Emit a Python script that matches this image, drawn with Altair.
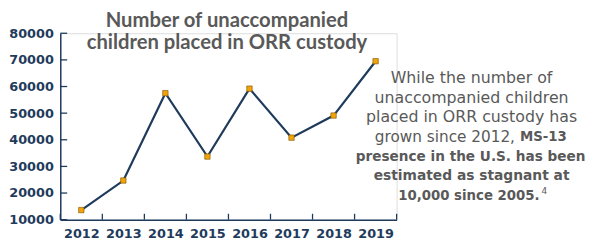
import altair as alt
import pandas as pd

years = ["2012", "2013", "2014", "2015", "2016", "2017", "2018", "2019"]
counts = [13600, 24700, 57500, 33700, 59200, 40800, 49100, 69500]
y_ticks = [10000, 20000, 30000, 40000, 50000, 60000, 70000, 80000]

title_lines = ["Number of unaccompanied", "children placed in ORR custody"]
note_normal = ["While the number of", "unaccompanied children", "placed in ORR custody has"]
note_mixed_a = "grown since 2012,"
note_mixed_b = "MS-13"
note_bold = ["presence in the U.S. has been", "estimated as stagnant at"]
note_last = "10,000 since 2005."
note_sup = "4"

NAVY = "#1f3b5c"
GRAY = "#595959"
ORANGE = "#f0a30a"

W, H = 341, 189

df = pd.DataFrame({"year": years, "count": counts})

x_scale = alt.Scale(type="band", paddingInner=0, paddingOuter=0)
y_scale = alt.Scale(domain=[10000, 80000], nice=False)
x_axis = alt.Axis(title=None, labelAngle=0, tickBand="extent", ticks=False,
                  domainColor=NAVY, domainWidth=1.5, labelColor=NAVY,
                  labelFont="DejaVu Sans", labelFontWeight="bold",
                  labelFontSize=13, labelPadding=8, labelOverlap=False)
y_axis = alt.Axis(title=None, values=y_ticks, ticks=False, grid=False,
                  format="d", labelOverlap=False,
                  domainColor=NAVY, domainWidth=1.5, labelColor=NAVY,
                  labelFont="DejaVu Sans", labelFontWeight="bold",
                  labelFontSize=13, labelPadding=7)

base = alt.Chart(df)
line = base.mark_line(color=NAVY, strokeWidth=2.2).encode(
    x=alt.X("year:O", bandPosition=0.5, scale=x_scale, axis=x_axis),
    y=alt.Y("count:Q", scale=y_scale, axis=y_axis))
pts = base.mark_square(size=30, color=ORANGE, filled=True, stroke="#7a5200",
                       strokeWidth=0.6, opacity=1).encode(
    x=alt.X("year:O", bandPosition=0.5, scale=x_scale, axis=x_axis),
    y=alt.Y("count:Q", scale=y_scale, axis=y_axis))

ytick_df = pd.DataFrame({"count": y_ticks})
yticks = alt.Chart(ytick_df).mark_rule(color=NAVY, strokeWidth=1.3).encode(
    y=alt.Y("count:Q", scale=y_scale, axis=y_axis), x=alt.value(0), x2=alt.value(7))
xticks = base.mark_rule(color=NAVY, strokeWidth=1.3).encode(
    x=alt.X("year:O", bandPosition=0, scale=x_scale, axis=x_axis),
    y=alt.value(H - 6), y2=alt.value(H))
xtick_end = base.transform_filter(alt.datum.year == years[-1]).mark_rule(
    color=NAVY, strokeWidth=1.3).encode(
    x=alt.X("year:O", bandPosition=1, scale=x_scale, axis=x_axis),
    y=alt.value(H - 6), y2=alt.value(H))


def txt(s, x, y, size, weight="normal", align="center", font="DejaVu Sans", color=GRAY):
    return alt.Chart(pd.DataFrame({"t": [s]})).mark_text(
        align=align, baseline="middle", font=font, fontSize=size,
        fontWeight=weight, color=color).encode(
        text="t:N", x=alt.value(x), y=alt.value(y))


texts = []
tx = 169
texts.append(txt(title_lines[0], tx, -12, 20.5, "bold", font="Lato"))
texts.append(txt(title_lines[1], tx, 10, 20.5, "bold", font="Lato"))

nx = 417
ny = [45, 66, 85, 105, 126, 145, 165]
for i, s in enumerate(note_normal):
    texts.append(txt(s, nx, ny[i], 16))
texts.append(txt(note_mixed_a, 461, ny[3], 15.5, align="right"))
texts.append(txt(note_mixed_b, 466, ny[3], 13.5, "bold", align="left"))
texts.append(txt(note_bold[0], 416, ny[4], 13.8, "bold"))
texts.append(txt(note_bold[1], nx, ny[5], 14, "bold"))
texts.append(txt(note_last, 486, ny[6], 13.5, "bold", align="right"))
texts.append(txt(note_sup, 488, ny[6] - 5, 9, align="left"))

chart = alt.layer(line, yticks, xticks, xtick_end, pts, *texts).properties(
    width=W, height=H,
    autosize=alt.AutoSizeParams(type="none"),
    padding={"left": 53, "top": 24, "right": 192, "bottom": 19},
).configure_view(stroke=None).configure_axis(labelOverlap=False).configure(background="white")

chart.save("out.html", embed_options={"renderer": "svg", "actions": False})
